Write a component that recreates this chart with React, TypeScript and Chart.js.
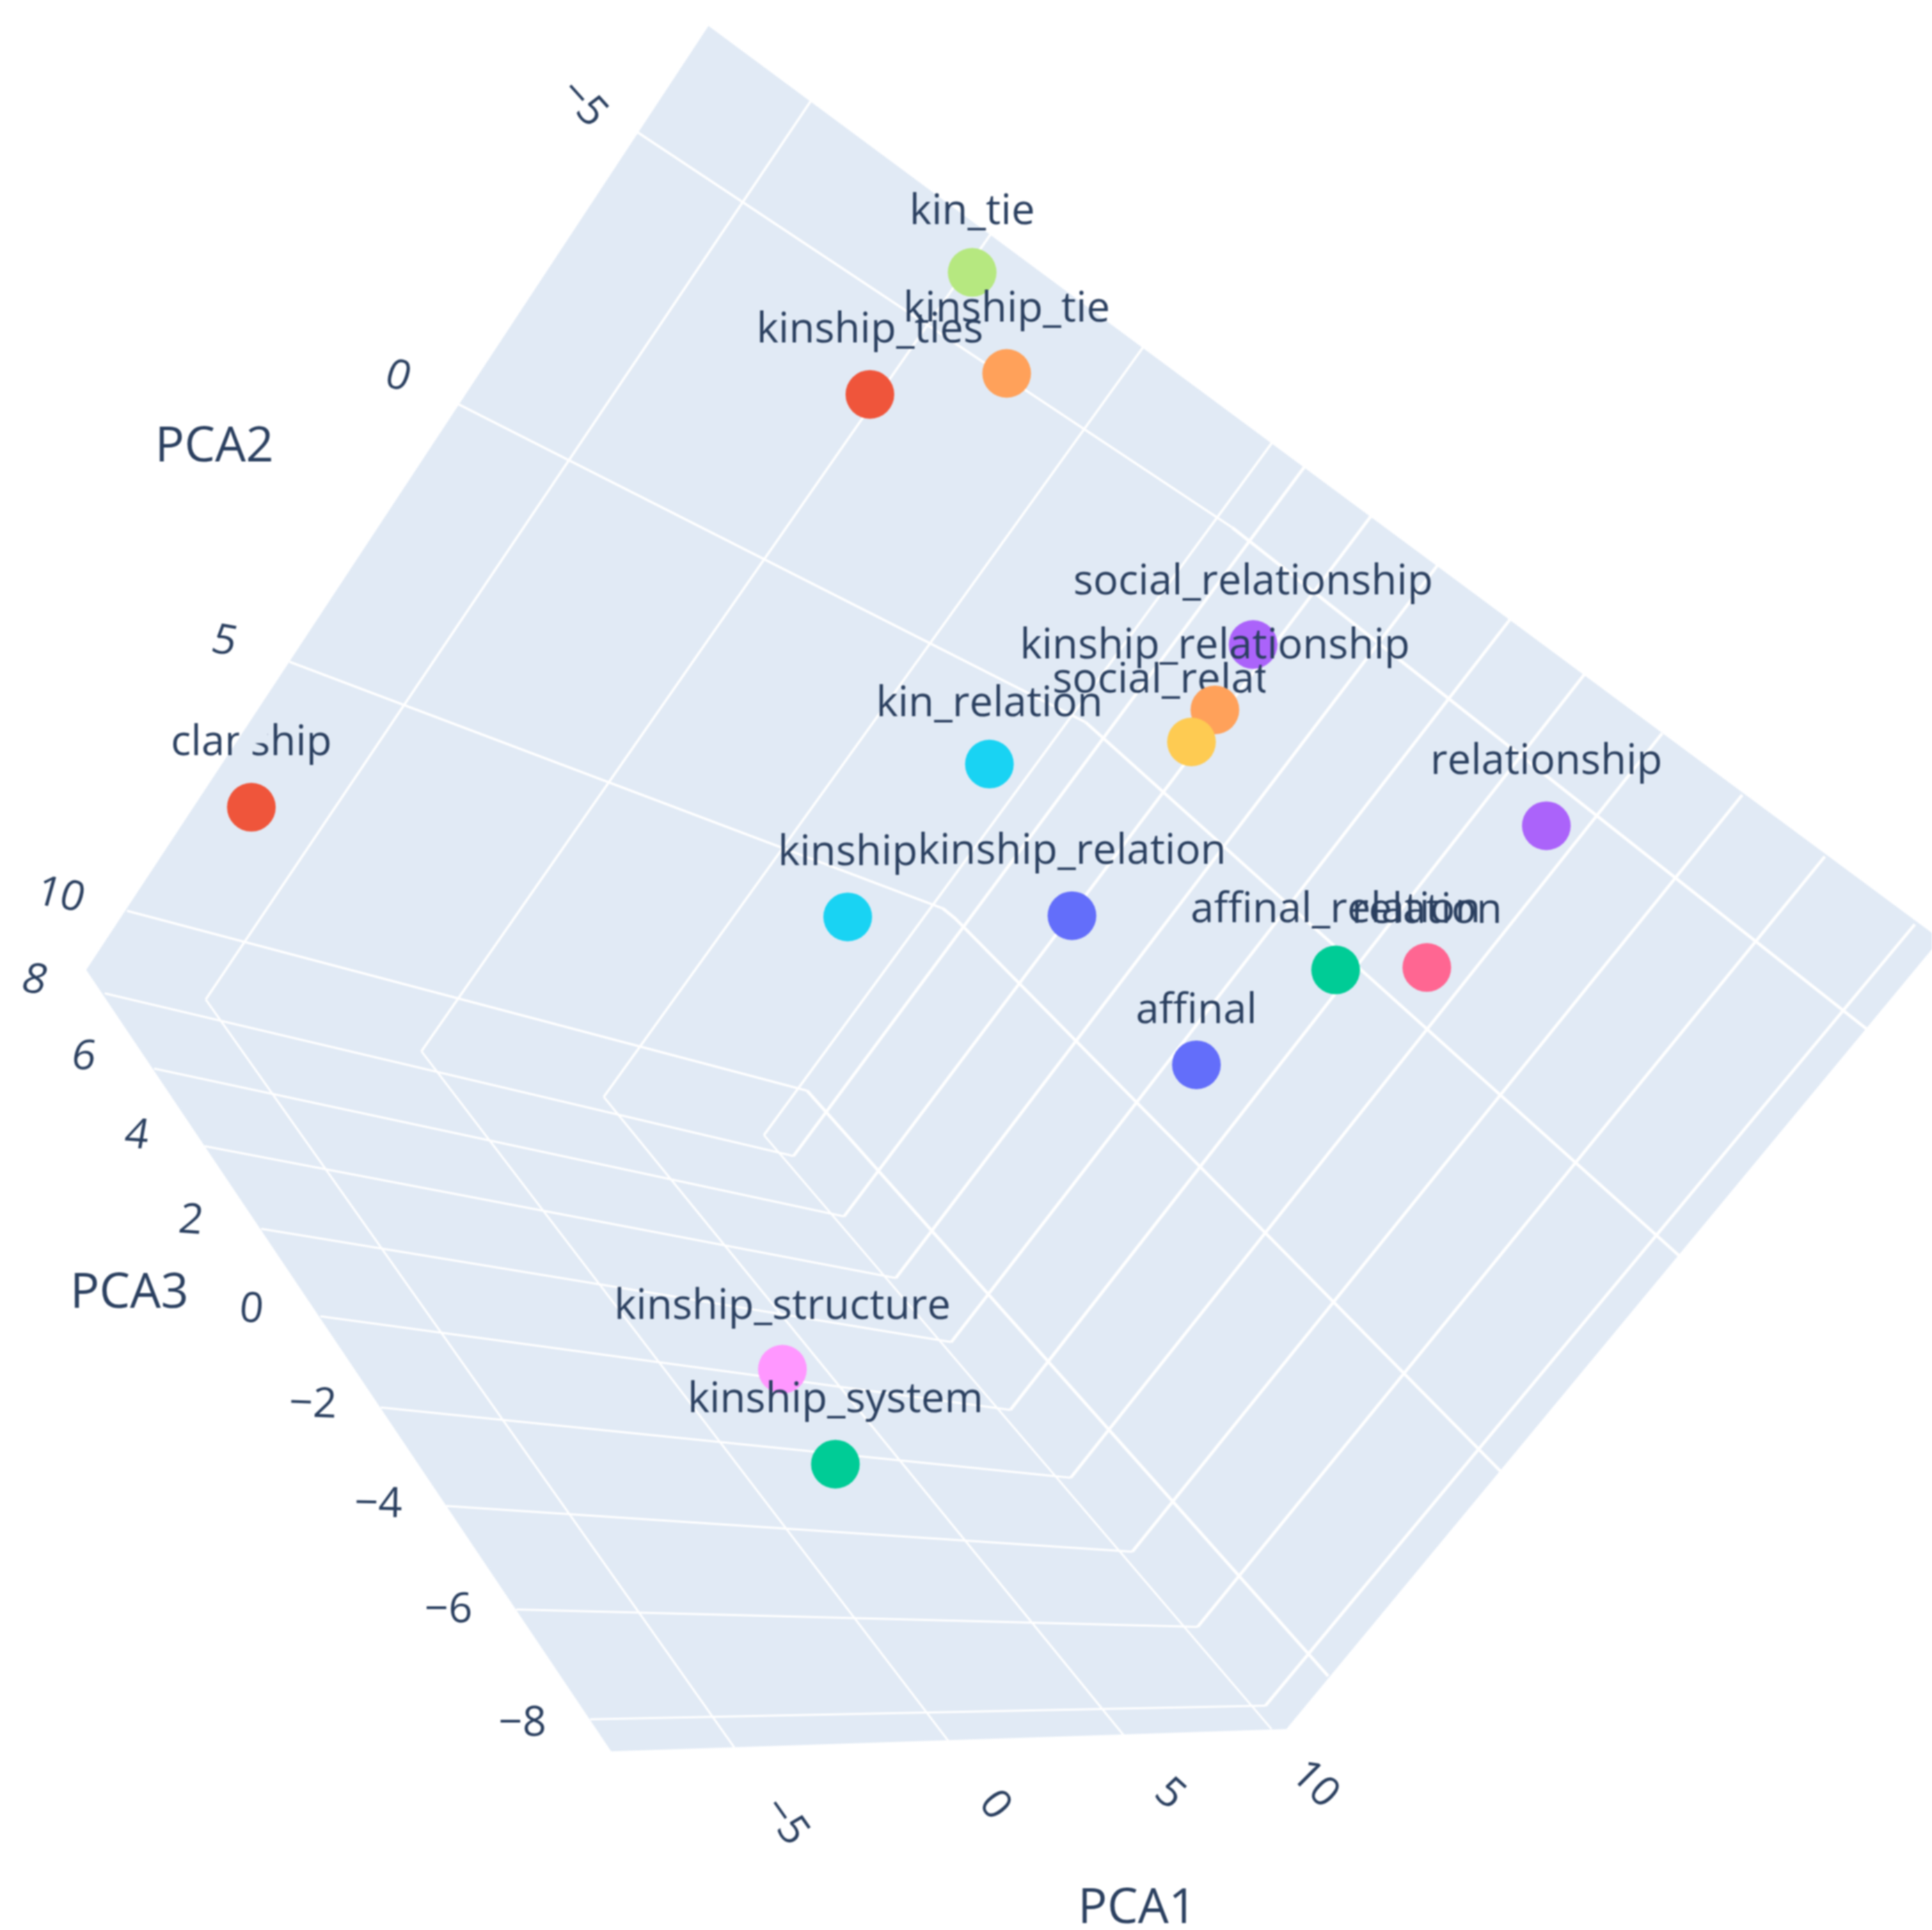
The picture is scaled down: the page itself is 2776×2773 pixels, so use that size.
import React, { useEffect, useRef } from "react";
import { Chart, registerables } from "chart.js";

Chart.register(...registerables);

const wordLabels = ["kin_tie", "kinship_tie", "kinship_ties", "social_relationship", "kinship_relationship", "social_relation", "kin_relation", "kinship", "kinship_relation", "clanship", "relationship", "affinal_relation", "relation", "affinal", "kinship_structure", "kinship_system"];
const projectedX = [789, 817, 706, 1017, 986, 967, 803, 688, 870, 204, 1255, 1084, 1158, 971, 635, 678];
const projectedY = [221, 303, 320, 523, 576, 602, 620, 744, 743, 655, 670, 787, 785, 864, 1111, 1188];
const labelLift = [39, 42, 42, 41, 42, 40, 39, 42, 42, 42, 42, 39, 36, 34, 41, 42];
const wordColors = ["#B6E880", "#FFA15A", "#EF553B", "#AB63FA", "#FFA15A", "#FECB52", "#19D3F3", "#19D3F3", "#636EFA", "#EF553B", "#AB63FA", "#00CC96", "#FF6692", "#636EFA", "#FF97FF", "#00CC96"];

// Scene silhouette
const sceneOutline = [[575, 21], [1568, 757], [1568, 770], [1044, 1403], [496, 1421], [70, 787]];

// Grid lines of each axis, as projected polylines
const pca2Grid = [
  [[517, 107], [1000, 428], [1515, 835]],
  [[372, 328], [881, 586], [1364, 1020]],
  [[235, 537], [765, 737], [775, 745], [1218, 1194]],
  [[103, 739], [655, 885], [1078, 1360]],
];
const pca1Grid = [
  [[658, 82], [167, 811], [596, 1418]],
  [[804, 190], [342, 853], [770, 1413]],
  [[929, 280], [490, 890], [912, 1408]],
  [[1034, 357], [620, 921], [1032, 1403]],
];
const pca3Grid = [
  [[85, 806], [644, 938], [1060, 377]],
  [[125, 867], [685, 987], [1114, 417]],
  [[166, 930], [727, 1037], [1168, 457]],
  [[212, 997], [772, 1089], [1226, 502]],
  [[260, 1068], [820, 1144], [1286, 547]],
  [[309, 1142], [869, 1199], [1349, 595]],
  [[362, 1222], [919, 1259], [1414, 645]],
  [[419, 1306], [972, 1320], [1481, 695]],
  [[479, 1395], [1027, 1384], [1554, 750]],
];

// Axis ticks
const pca2Ticks = ["−5", "0", "5", "10"];
const pca3Ticks = ["8", "6", "4", "2", "0", "−2", "−4", "−6", "−8"];
const pca1Ticks = ["−5", "0", "5", "10"];
const axisTitles = ["PCA2", "PCA3", "PCA1"];

const FONT = '"Open Sans", "Noto Sans", sans-serif';
const INK = "#2a3f5f";
const LABEL_PX = 60;
const TICK_PX = 60;
const TITLE_PX = 70;
const MARKER_R = 35;
const W = 2776;
const H = 2773;

// Placement of the axis text: x, y, rotation (deg), skew
const pca2Place = [[473, 84, 48, 0], [323, 306, 12, 0.1], [182, 521, 10, 0.1], [49, 727, 10, 0.1]];
const pca3Place = [[28, 796, 8, 0.15], [68, 858, 4, 0.1], [111, 922, 4, 0.1], [155, 991, 4, 0.08], [204, 1063, 2, 0.06], [254, 1140, 2, 0], [307, 1221, 1, 0], [364, 1307, 0, 0], [424, 1399, 0, 0]];
const pca1Place = [[637, 1478, 55, 0], [807, 1465, 52, 0], [949, 1456, 42, 0], [1067, 1448, 45, 0]];
const titlePlace = [[174, 363], [105, 1050], [923, 1549]];

const asPoints = (line: number[][]) => line.map(([x, y]) => ({ x, y }));

const textPlugin = {
  id: "sceneText",
  afterDatasetsDraw(chart: any) {
    const { ctx, scales } = chart;
    const px = (v: number) => scales.x.getPixelForValue(v);
    const py = (v: number) => scales.y.getPixelForValue(v);
    ctx.save();
    ctx.fillStyle = INK;

    wordLabels.forEach((word, i) => {
      ctx.save();
      ctx.font = `${LABEL_PX}px ${FONT}`;
      ctx.textAlign = "center";
      ctx.textBaseline = "alphabetic";
      if (word === "social_relation") {
        // Partly masked in the scene, and partly under the orange marker
        const over = wordLabels.indexOf("kinship_relationship");
        ctx.beginPath();
        ctx.rect(px(840), py(537), px(1027) - px(840), py(590) - py(537));
        ctx.moveTo(px(projectedX[over]) + MARKER_R, py(projectedY[over]));
        ctx.arc(px(projectedX[over]), py(projectedY[over]), MARKER_R, 0, Math.PI * 2);
        ctx.closePath();
        ctx.clip("evenodd");
      }
      if (word === "clanship") {
        ctx.beginPath();
        ctx.rect(px(120), py(570), px(194) - px(120), py(640) - py(570));
        ctx.rect(px(205), py(603), px(300) - px(205), py(640) - py(603));
        ctx.rect(px(217), py(570), px(300) - px(217), py(603) - py(570));
        ctx.clip();
      }
      if (word === "kinship_system") {
        ctx.beginPath();
        ctx.moveTo(px(556), py(1128));
        ctx.lineTo(px(566), py(1112));
        ctx.lineTo(px(820), py(1112));
        ctx.lineTo(px(820), py(1165));
        ctx.lineTo(px(550), py(1165));
        ctx.lineTo(px(550), py(1140));
        ctx.closePath();
        ctx.clip();
      }
      ctx.fillText(word, px(projectedX[i]), py(projectedY[i] - labelLift[i]));
      ctx.restore();
    });

    const drawTick = (t: string, p: number[]) => {
      ctx.save();
      ctx.font = `${TICK_PX}px ${FONT}`;
      ctx.textAlign = "center";
      ctx.textBaseline = "middle";
      ctx.translate(px(p[0]), py(p[1]));
      ctx.rotate((p[2] * Math.PI) / 180);
      ctx.transform(1, 0, -p[3], 1, 0, 0);
      ctx.fillText(t, 0, 0);
      ctx.restore();
    };
    pca2Ticks.forEach((t, i) => drawTick(t, pca2Place[i]));
    pca3Ticks.forEach((t, i) => drawTick(t, pca3Place[i]));
    pca1Ticks.forEach((t, i) => drawTick(t, pca1Place[i]));

    ctx.font = `${TITLE_PX}px ${FONT}`;
    ctx.textAlign = "center";
    ctx.textBaseline = "middle";
    axisTitles.forEach((t, i) => ctx.fillText(t, px(titlePlace[i][0]), py(titlePlace[i][1])));
    ctx.restore();
  },
};

export default function App() {
  const ref = useRef<HTMLCanvasElement>(null);
  useEffect(() => {
    document.body.style.margin = "0";
    document.body.style.background = "#ffffff";
    const gridSet = (line: number[][], first: number, last: number) => ({
      data: asPoints(line),
      showLine: true,
      borderColor: "#ffffff",
      borderWidth: first,
      borderJoinStyle: "round",
      pointRadius: 0,
      tension: 0,
      fill: false,
      clip: false,
      segment: { borderWidth: (c: any) => (c.p0DataIndex === 0 ? first : last) },
      order: 900,
    });
    const chart = new Chart(ref.current!, {
      type: "scatter",
      data: {
        datasets: [
          {
            data: asPoints(sceneOutline),
            showLine: true,
            borderWidth: 0,
            backgroundColor: "#E1EAF5",
            pointRadius: 0,
            tension: 0,
            fill: "shape",
            clip: false,
            order: 1000,
          },
          ...pca2Grid.map((l) => gridSet(l, 3.5, 4.5)),
          ...pca1Grid.map((l) => gridSet(l, 3.5, 3)),
          ...pca3Grid.map((l) => gridSet(l, 3, 4.5)),
          ...wordLabels.map((w, i) => ({
            label: w,
            data: [{ x: projectedX[i], y: projectedY[i] }],
            backgroundColor: wordColors[i],
            borderWidth: 0,
            pointRadius: MARKER_R,
            pointHoverRadius: MARKER_R,
            clip: false,
            order: 100 - i,
          })),
        ],
      } as any,
      options: {
        responsive: false,
        animation: false,
        layout: { padding: 0 },
        plugins: { legend: { display: false }, tooltip: { enabled: false }, title: { display: false } },
        scales: {
          x: { type: "linear", min: 0, max: 1568, display: false },
          y: { type: "linear", min: 0, max: 1566, reverse: true, display: false },
        },
      } as any,
      plugins: [textPlugin],
    });
    return () => chart.destroy();
  }, []);
  // The canvas overhangs by one marker radius: Chart.js keeps that margin free round the plot area
  return (
    <div style={{ width: W, height: H, overflow: "hidden", position: "relative" }}>
      <canvas
        ref={ref}
        width={W + 2 * MARKER_R}
        height={H + 2 * MARKER_R}
        style={{ display: "block", position: "absolute", left: -MARKER_R, top: -MARKER_R, width: W + 2 * MARKER_R, height: H + 2 * MARKER_R, filter: "blur(1.3px)" }}
      />
    </div>
  );
}
